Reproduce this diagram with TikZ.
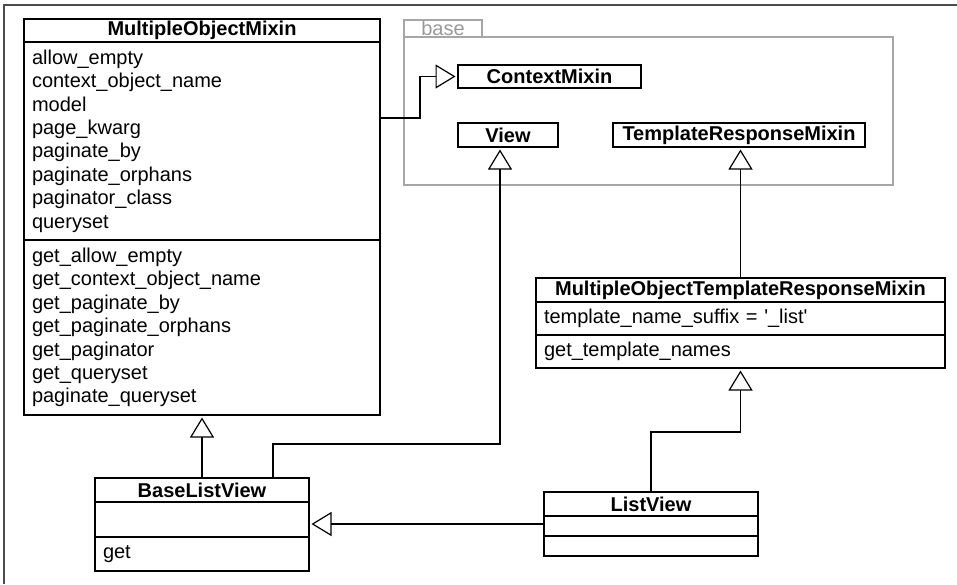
\documentclass[tikz,border=0pt]{standalone}
\usepackage{fontspec}
\setmainfont{Liberation Sans}
\usetikzlibrary{arrows.meta}

\newcommand{\umlfont}{\fontsize{20}{23.4}\selectfont}

\tikzset{
  classname/.style={draw, line width=1.2pt, font=\umlfont\bfseries, inner sep=0pt, outer sep=0pt, anchor=north west},
  members/.style={draw, line width=1.2pt, align=left, inner xsep=8pt, inner ysep=0pt, outer sep=0pt, anchor=north west},
  generalize/.style={line width=1.2pt, -{Triangle[open, length=20pt, width=24pt]}, shorten >=2.5pt},
  pkg/.style={draw=black!35, line width=1.2pt, inner sep=0pt, outer sep=0pt, anchor=north west}
}

\begin{document}
\begin{tikzpicture}[x=1pt, y=-1pt, font=\umlfont]

\useasboundingbox (0,0) rectangle (957,584);
\draw[black!70, line width=1.2pt] (957,5) -- (4,5) -- (4,584);

% package base
\node[pkg, minimum width=78pt, minimum height=17pt, text=black!40] (basetab) at (404,20) {base};
\node[pkg, minimum width=489pt, minimum height=148pt] (basepkg) at (404,37) {};

\node[classname, minimum width=183pt, minimum height=23pt] (ctx) at (458,65) {ContextMixin};
\node[classname, minimum width=100pt, minimum height=24pt] (view) at (458,123) {View};
\node[classname, minimum width=252pt, minimum height=24pt] (trm) at (613,123) {TemplateResponseMixin};

% MultipleObjectMixin
\node[classname, minimum width=356pt, minimum height=23pt] (mom) at (24,19) {MultipleObjectMixin};
\node[members, text width=340pt, minimum height=198pt] (momattr) at (mom.south west)
  {allow\_empty\\context\_object\_name\\model\\page\_kwarg\\paginate\_by\\paginate\_orphans\\paginator\_class\\queryset};
\node[members, text width=340pt, minimum height=175pt] (mommeth) at (momattr.south west)
  {get\_allow\_empty\\get\_context\_object\_name\\get\_paginate\_by\\get\_paginate\_orphans\\get\_paginator\\get\_queryset\\paginate\_queryset};

% MultipleObjectTemplateResponseMixin
\node[classname, minimum width=409pt, minimum height=24pt] (motrm) at (536,278) {MultipleObjectTemplateResponseMixin};
\node[members, text width=393pt, minimum height=33pt] (motrmattr) at (motrm.south west)
  {template\_name\_suffix = \textquotesingle\_list\textquotesingle};
\node[members, text width=393pt, minimum height=33pt] (motrmmeth) at (motrmattr.south west) {get\_template\_names};

% BaseListView and ListView
\node[classname, minimum width=214pt, minimum height=24pt] (blv) at (95,478) {BaseListView};
\node[members, text width=198pt, minimum height=35pt] (blvattr) at (blv.south west) {};
\node[members, text width=198pt, minimum height=34pt] (blvmeth) at (blvattr.south west) {get};

\node[classname, minimum width=214pt, minimum height=24pt] (lv) at (544,492) {ListView};
\node[members, text width=198pt, minimum height=20pt] (lvattr) at (lv.south west) {};
\node[members, text width=198pt, minimum height=20pt] (lvmeth) at (lvattr.south west) {};

\draw[generalize] (momattr.east |- 0,118) -- (420,118) |- (ctx.west);
\draw[generalize] (blv.north) -- (mommeth.south);
\draw[generalize] (blv.north -| 273,0) |- (500,444) -- (view.south -| 500,0);
\draw[generalize] (motrm.north) -- (motrm.north |- trm.south);
\draw[generalize] (lv.north) -- (lv.north |- 0,432) -| (motrmmeth.south);
\draw[generalize] (lvattr.west |- 0,524) -- (blvattr.east |- 0,524);

\end{tikzpicture}
\end{document}
